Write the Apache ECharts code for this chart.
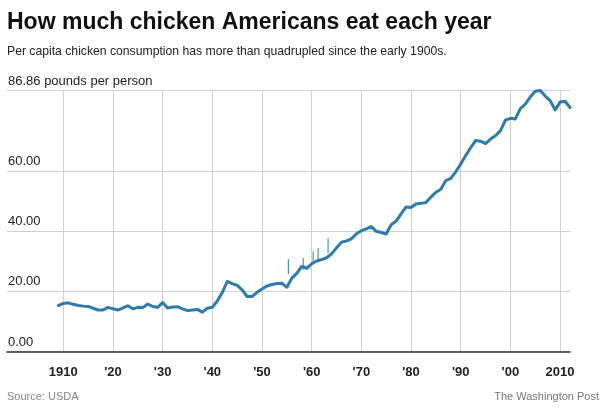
<!DOCTYPE html>
<html>
<head>
<meta charset="utf-8">
<script src="https://cdn.jsdelivr.net/npm/echarts@6/dist/echarts.min.js"></script>
<style>
  html, body { margin: 0; padding: 0; background: #fff; }
  #chart { width: 605px; height: 408px; }
</style>
</head>
<body>
<div id="chart"></div>
<script>
// ---- Data ----
const years = [];
for (let y = 1909; y <= 2012; y++) years.push(y);

const consumption = [
  15.3, 16.0, 16.2, 15.7, 15.3, 15.1, 15.0, 14.4, 13.8, 13.8, // 1909-1918
  14.7, 14.2, 13.8, 14.5, 15.2, 14.2, 14.7, 14.6, 15.8, 15.0, // 1919-1928
  14.7, 16.3, 14.5, 14.8, 14.9, 14.2, 13.6, 13.8, 14.0, 13.1, // 1929-1938
  14.4, 14.7, 16.8, 19.6, 23.3, 22.6, 22.0, 20.5, 18.3, 18.3, // 1939-1948
  19.7, 20.8, 21.8, 22.3, 22.6, 22.7, 21.4, 24.4, 26.0, 28.3, // 1949-1958
  27.7, 29.2, 30.1, 30.6, 31.2, 32.5, 34.5, 36.4, 36.8, 37.5, // 1959-1968
  39.2, 40.2, 40.8, 41.6, 40.0, 39.6, 39.1, 42.2, 43.4, 45.8, // 1969-1978
  48.1, 47.9, 49.1, 49.3, 49.6, 51.4, 53.0, 54.0, 56.9, 57.6, // 1979-1988
  59.8, 62.4, 65.2, 67.8, 70.2, 70.0, 69.2, 70.7, 71.8, 73.5, // 1989-1998
  77.0, 77.6, 77.4, 80.8, 82.3, 84.7, 86.6, 86.86, 85.0, 83.5, // 1999-2008
  80.4, 83.0, 83.3, 81.2                                       // 2009-2012
];

// small vertical marks visible in the source image
const spikeYears = [1955.3, 1958.3, 1960.3, 1961.3, 1963.3];
const spikeLow   = [25.8, 27.2, 28.9, 30.1, 32.7];
const spikeHigh  = [30.7, 31.1, 33.3, 34.4, 37.7];

const xTicks = [1910, 1920, 1930, 1940, 1950, 1960, 1970, 1980, 1990, 2000, 2010];
const xTickLabels = ['1910', "'20", "'30", "'40", "'50", "'60", "'70", "'80", "'90", "'00", '2010'];
const yTicks = [0, 20, 40, 60, 86.86];
const yTickLabels = ['0.00', '20.00', '40.00', '60.00', '86.86 pounds per person'];

// ---- Chart ----
const FONT = "'Liberation Sans', Arial, Helvetica, sans-serif";
const chart = echarts.init(document.getElementById('chart'), null, { renderer: 'canvas' });

const lineData = years.map((y, i) => [y, consumption[i]]);
const spikeData = spikeYears.map((y, i) => [y, spikeLow[i], spikeHigh[i]]);

chart.setOption({
  animation: false,
  backgroundColor: '#fff',
  title: [
    { text: 'How much chicken Americans eat each year', left: 7, top: 11, padding: 0,
      textStyle: { fontFamily: FONT, fontSize: 23, fontWeight: 'bold', color: '#111' } },
    { text: 'Per capita chicken consumption has more than quadrupled since the early 1900s.', left: 7, top: 46, padding: 0,
      textStyle: { fontFamily: FONT, fontSize: 12.2, fontWeight: 'normal', color: '#222' } },
    { text: 'Source: USDA', left: 7, top: 391, padding: 0,
      textStyle: { fontFamily: FONT, fontSize: 11, fontWeight: 'normal', color: '#888' } },
    { text: 'The Washington Post', right: 6, top: 391, padding: 0,
      textStyle: { fontFamily: FONT, fontSize: 11, fontWeight: 'normal', color: '#777' } }
  ],
  grid: { left: 7, right: 35, top: 90.5, bottom: 56.5, containLabel: false },
  xAxis: {
    type: 'value',
    min: 1898.67,
    max: 2012,
    axisLine: { show: true, lineStyle: { color: '#333', width: 1.5 } },
    axisTick: { show: false, customValues: xTicks },
    axisLabel: {
      customValues: xTicks,
      margin: 14,
      fontFamily: FONT, fontSize: 13, fontWeight: 'bold', color: '#222',
      formatter: function (v) { const i = xTicks.indexOf(Math.round(v)); return i >= 0 ? xTickLabels[i] : ''; }
    },
    splitLine: { show: true, lineStyle: { color: '#d0d0d0', width: 1 } }
  },
  yAxis: {
    type: 'value',
    min: 0,
    max: 86.86,
    axisLine: { show: false },
    axisTick: { show: false, customValues: yTicks },
    axisLabel: {
      customValues: yTicks,
      inside: true,
      margin: 1,
      align: 'left',
      verticalAlign: 'bottom',
      padding: [0, 0, 3, 0],
      fontFamily: FONT, fontSize: 13, color: '#222',
      formatter: function (v) {
        let best = 0;
        for (let i = 0; i < yTicks.length; i++) if (Math.abs(yTicks[i] - v) < Math.abs(yTicks[best] - v)) best = i;
        return yTickLabels[best];
      }
    },
    splitLine: { show: true, lineStyle: { color: '#d0d0d0', width: 1 } }
  },
  series: [
    {
      type: 'line',
      data: lineData,
      showSymbol: false,
      smooth: false,
      lineStyle: { color: '#2e7bb0', width: 3, join: 'round', cap: 'round' },
      z: 3
    },
    {
      type: 'custom',
      data: spikeData,
      renderItem: function (params, api) {
        const p1 = api.coord([api.value(0), api.value(1)]);
        const p2 = api.coord([api.value(0), api.value(2)]);
        return { type: 'line', shape: { x1: p1[0], y1: p1[1], x2: p2[0], y2: p2[1] },
                 style: { stroke: '#1f8a8a', lineWidth: 1 } };
      },
      z: 2
    }
  ]
});
</script>
</body>
</html>
